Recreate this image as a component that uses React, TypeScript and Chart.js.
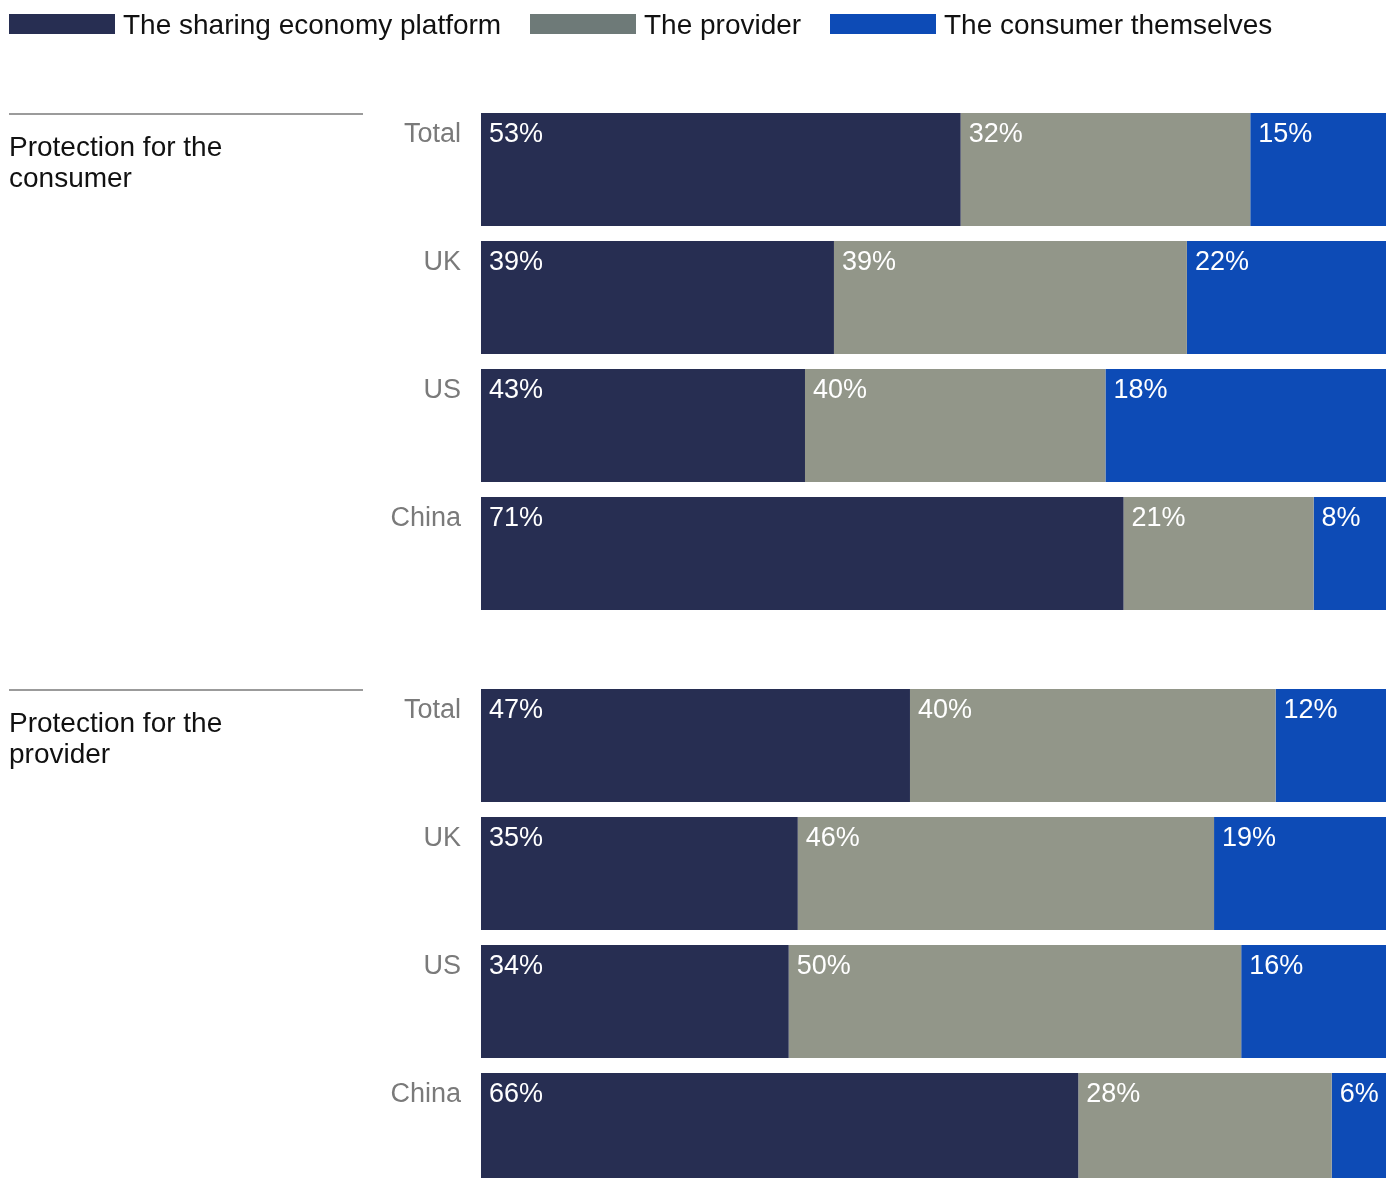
import React, { useEffect, useRef } from "react";
import { Chart, registerables } from "chart.js";

Chart.register(...registerables);

// ---- data ----
const seriesNames = ["The sharing economy platform", "The provider", "The consumer themselves"];
const barColors = ["#272E52", "#929689", "#0D4BB6"];
const legendColors = ["#272E52", "#6E7A78", "#0D4BB6"];
const categories = ["Total", "UK", "US", "China"];

const groupTitles = [["Protection for the", "consumer"], ["Protection for the", "provider"]];

// Group 1: Protection for the consumer (bar lengths as drawn)
const consumerPlatform = [53, 39, 35.8, 71];
const consumerProvider = [32, 39, 33.2, 21];
const consumerSelf = [15, 22, 31.0, 8];
// labels as printed
const consumerPlatformLbl = ["53%", "39%", "43%", "71%"];
const consumerProviderLbl = ["32%", "39%", "40%", "21%"];
const consumerSelfLbl = ["15%", "22%", "18%", "8%"];

// Group 2: Protection for the provider (bar lengths as drawn)
const providerPlatform = [47.4, 35, 34, 66];
const providerProvider = [40.4, 46, 50, 28];
const providerSelf = [12.2, 19, 16, 6];
const providerPlatformLbl = ["47%", "35%", "34%", "66%"];
const providerProviderLbl = ["40%", "46%", "50%", "28%"];
const providerSelfLbl = ["12%", "19%", "16%", "6%"];

const FONT = "'Liberation Sans', Arial, Helvetica, sans-serif";

type GroupSpec = {
  values: number[][];
  labels: string[][];
  title: string[];
  withLegend: boolean;
  padTop: number;
  height: number;
  top: number;
};

const groups: GroupSpec[] = [
  {
    values: [consumerPlatform, consumerProvider, consumerSelf],
    labels: [consumerPlatformLbl, consumerProviderLbl, consumerSelfLbl],
    title: groupTitles[0],
    withLegend: true,
    padTop: 105.5,
    height: 640,
    top: 0,
  },
  {
    values: [providerPlatform, providerProvider, providerSelf],
    labels: [providerPlatformLbl, providerProviderLbl, providerSelfLbl],
    title: groupTitles[1],
    withLegend: false,
    padTop: 41.5,
    height: 560,
    top: 640,
  },
];

function GroupChart({ spec }: { spec: GroupSpec }) {
  const ref = useRef<HTMLCanvasElement | null>(null);
  useEffect(() => {
    if (!ref.current) return;
    const overlay = {
      id: "overlay",
      afterDatasetsDraw(chart: any) {
        const ctx = chart.ctx;
        ctx.save();
        // legend
        if (spec.withLegend) {
          const boxX = [9, 530, 830];
          ctx.font = `28px ${FONT}`;
          ctx.textBaseline = "alphabetic";
          ctx.textAlign = "left";
          seriesNames.forEach((name, i) => {
            ctx.fillStyle = legendColors[i];
            ctx.fillRect(boxX[i], 14, 106, 20);
            ctx.fillStyle = "#111111";
            ctx.fillText(name, boxX[i] + 114, 34);
          });
        }
        // group title and rule
        const meta0 = chart.getDatasetMeta(0);
        const firstBar = meta0.data[0];
        const firstTop = firstBar.y - firstBar.height / 2;
        ctx.strokeStyle = "#7a7a7a";
        ctx.lineWidth = 1.3;
        ctx.beginPath();
        ctx.moveTo(9, firstTop + 1);
        ctx.lineTo(363, firstTop + 1);
        ctx.stroke();
        ctx.fillStyle = "#111111";
        ctx.font = `28px ${FONT}`;
        ctx.textAlign = "left";
        ctx.textBaseline = "alphabetic";
        spec.title.forEach((line, i) => {
          ctx.fillText(line, 9, firstTop + 43 + i * 31);
        });
        // category labels
        ctx.font = `27px ${FONT}`;
        ctx.fillStyle = "#7a7a7a";
        ctx.textAlign = "right";
        meta0.data.forEach((bar: any, i: number) => {
          const top = bar.y - bar.height / 2;
          ctx.fillText(categories[i], 461, top + 29);
        });
        // value labels
        ctx.fillStyle = "#ffffff";
        ctx.textAlign = "left";
        chart.data.datasets.forEach((_ds: any, di: number) => {
          const meta = chart.getDatasetMeta(di);
          meta.data.forEach((bar: any, i: number) => {
            const left = Math.min(bar.x, bar.base);
            const top = bar.y - bar.height / 2;
            ctx.fillText(spec.labels[di][i], left + 8, top + 29);
          });
        });
        ctx.restore();
      },
    };
    const chart = new Chart(ref.current, {
      type: "bar",
      data: {
        labels: categories,
        datasets: spec.values.map((vals, i) => ({
          label: seriesNames[i],
          data: vals,
          backgroundColor: barColors[i],
          borderWidth: 0,
          categoryPercentage: 1,
          barPercentage: 113 / 128,
        })),
      },
      options: {
        indexAxis: "y",
        animation: false,
        responsive: true,
        maintainAspectRatio: false,
        layout: { padding: { top: spec.padTop, left: 481, right: 8, bottom: spec.height - spec.padTop - 512 } },
        plugins: { legend: { display: false }, tooltip: { enabled: false } },
        scales: {
          x: { stacked: true, min: 0, max: 100, display: false },
          y: { stacked: true, display: false },
        },
      },
      plugins: [overlay],
    });
    return () => chart.destroy();
  }, [spec]);
  return (
    <div style={{ position: "absolute", left: 0, top: spec.top, width: 1394, height: spec.height }}>
      <canvas ref={ref} />
    </div>
  );
}

export default function App() {
  return (
    <div
      style={{
        position: "fixed",
        left: 0,
        top: 0,
        width: 1394,
        height: 1178,
        overflow: "hidden",
        background: "#ffffff",
      }}
    >
      {groups.map((g, i) => (
        <GroupChart key={i} spec={g} />
      ))}
    </div>
  );
}
